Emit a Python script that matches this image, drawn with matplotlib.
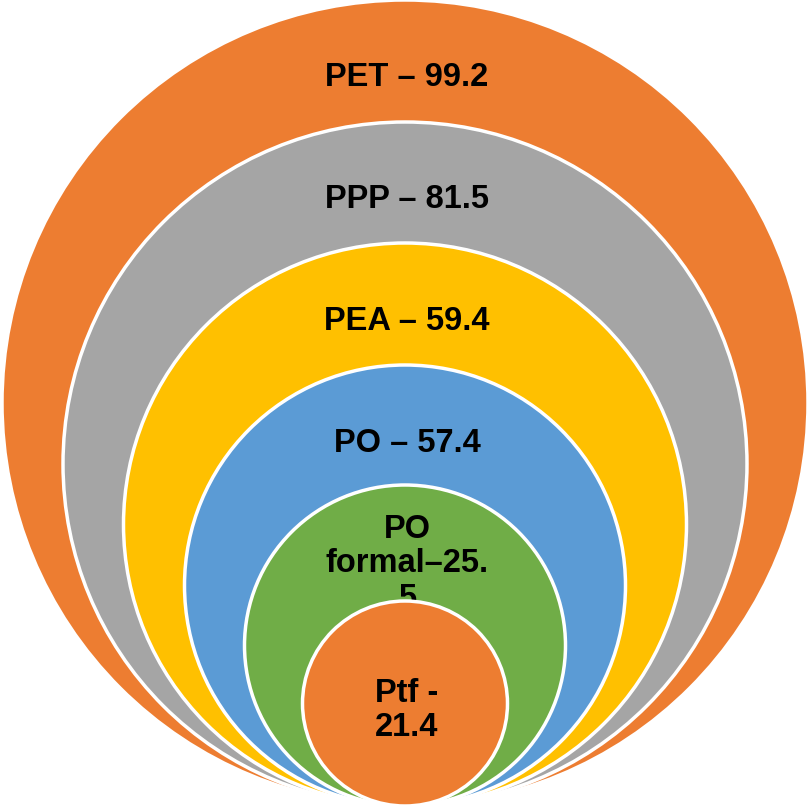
import matplotlib
matplotlib.use("Agg")
import matplotlib.pyplot as plt
from matplotlib.patches import Circle

# nested circle labels, outermost first
labels = ["PET – 99.2", "PPP – 81.5", "PEA – 59.4", "PO – 57.4",
          "PO\nformal–25.\n5", "Ptf -\n21.4"]
values = [99.2, 81.5, 59.4, 57.4, 25.5, 21.4]
colors = ["#ED7D31", "#A5A5A5", "#FFC000", "#5B9BD5", "#70AD47", "#ED7D31"]

# circle radii in pixels, all circles touch at the bottom
radii = [403, 342, 281.5, 220.5, 160.5, 102.5]
cx = 405
bottom = 806

W, H = 812, 807
fig = plt.figure(figsize=(W / 100, H / 100), dpi=100)
ax = fig.add_axes([0, 0, 1, 1])
ax.set_xlim(0, W)
ax.set_ylim(H, 0)
ax.axis("off")

for i, (r, c, lab) in enumerate(zip(radii, colors, labels)):
    cy = bottom - r
    ax.add_patch(Circle((cx, cy), r, facecolor=c, edgecolor="white",
                        linewidth=2.5, zorder=2 * i))
    if i < 4:
        ty = cy - r + 78
    elif i == 4:
        ty = cy - r + 79
    else:
        ty = cy + 7
    ax.text(cx + 2, ty, lab, ha="center", va="center", fontsize=23.5,
            fontweight="bold", family=["Liberation Sans", "DejaVu Sans"],
            color="black", linespacing=1.15, zorder=2 * i + 1)

fig.savefig("out.png", dpi=100)
